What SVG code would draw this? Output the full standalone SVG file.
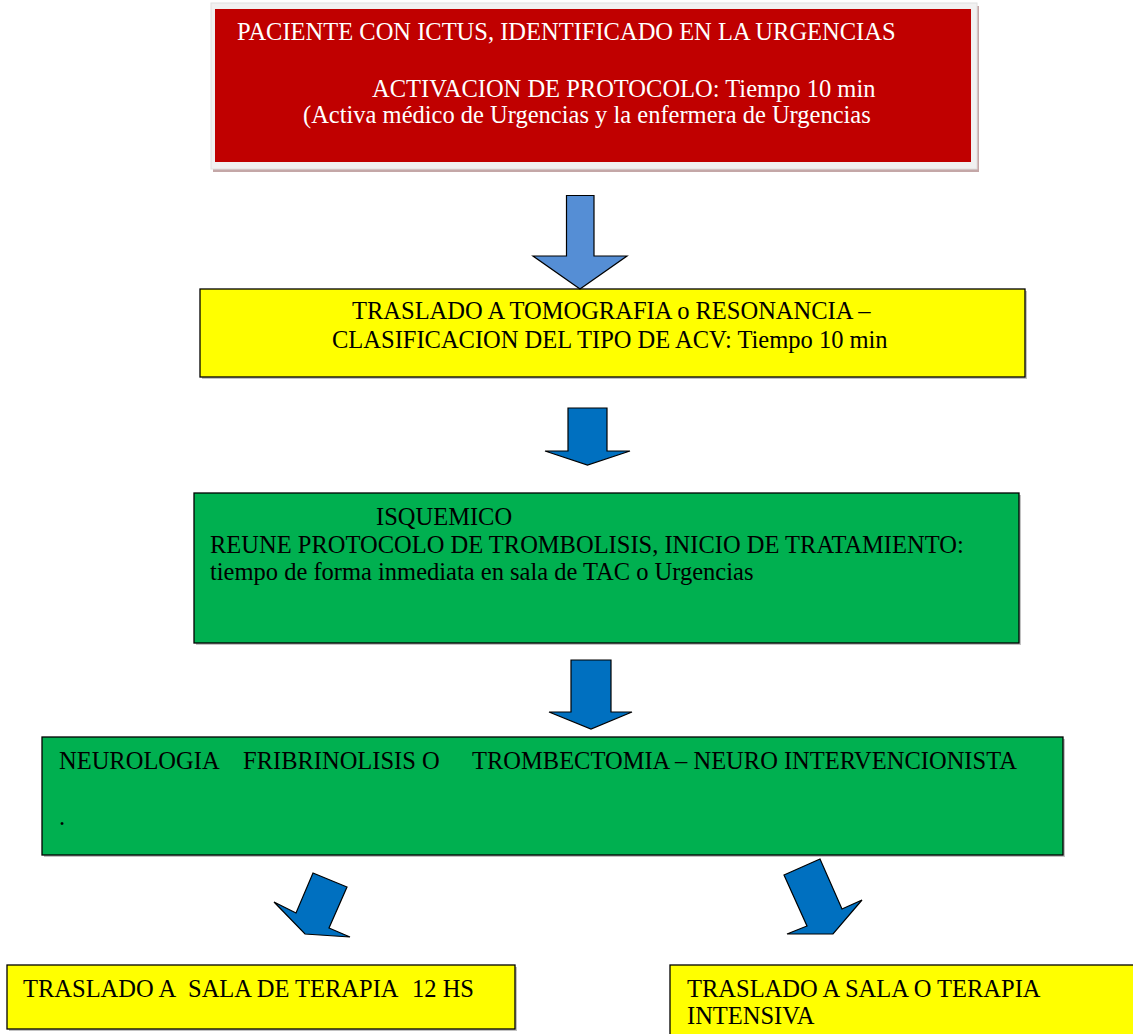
<svg xmlns="http://www.w3.org/2000/svg" width="1133" height="1034" viewBox="0 0 1133 1034">
<style>
text{font-family:"Liberation Serif","Times New Roman",serif;font-size:24.5px;fill:#000}
.w{fill:#fff}
.box{stroke:#000;stroke-width:1.3}
.sh{fill:#9a9a9a;opacity:0.6}
.arr{stroke:#000;stroke-width:1.2;stroke-linejoin:miter}
</style>
<rect x="0" y="0" width="1133" height="1034" fill="#fff"/>
<g id="n1">
<rect x="213" y="6" width="766" height="166" fill="#c4a7a7"/>
<rect x="211" y="3" width="766" height="166" fill="#f1f1f1" stroke="#e0e0e0" stroke-width="1"/>
<rect x="215" y="9" width="756" height="153" fill="#c00000"/>
<text class="w" x="237" y="40">PACIENTE CON ICTUS, IDENTIFICADO EN LA URGENCIAS</text>
<text class="w" x="372" y="97">ACTIVACION DE PROTOCOLO: Tiempo 10 min</text>
<text class="w" x="303" y="123">(Activa médico de Urgencias y la enfermera de Urgencias</text>
</g>
<g id="n2">
<rect class="sh" x="202" y="291" width="825" height="88"/>
<rect class="box" x="200" y="289" width="825" height="88" fill="#ffff00"/>
<text x="352" y="319">TRASLADO A TOMOGRAFIA o RESONANCIA –</text>
<text x="332" y="348">CLASIFICACION DEL TIPO DE ACV: Tiempo 10 min</text>
</g>
<g id="n3">
<rect class="sh" x="196" y="495" width="825" height="150"/>
<rect class="box" x="194" y="493" width="825" height="150" fill="#00b050"/>
<text x="376" y="525">ISQUEMICO</text>
<text x="210" y="553">REUNE PROTOCOLO DE TROMBOLISIS, INICIO DE TRATAMIENTO:</text>
<text x="210" y="580">tiempo de forma inmediata en sala de TAC o Urgencias</text>
</g>
<g id="n4">
<rect class="sh" x="44" y="739" width="1021" height="118"/>
<rect class="box" x="42" y="737" width="1021" height="118" fill="#00b050"/>
<text x="59" y="769">NEUROLOGIA</text>
<text x="243" y="769">FRIBRINOLISIS O</text>
<text x="472" y="769">TROMBECTOMIA – NEURO INTERVENCIONISTA</text>
<text x="59" y="825">.</text>
</g>
<g id="n5">
<rect class="sh" x="9" y="967" width="508" height="64"/>
<rect class="box" x="7" y="965" width="508" height="64" fill="#ffff00"/>
<text x="23" y="997">TRASLADO A</text>
<text x="188" y="997">SALA DE TERAPIA</text>
<text x="412" y="997">12 HS</text>
</g>
<g id="n6">
<rect class="box" x="670" y="965" width="480" height="80" fill="#ffff00"/>
<text x="687" y="997">TRASLADO A SALA O TERAPIA</text>
<text x="687" y="1024">INTENSIVA</text>
</g>
<g id="connectors">
<polygon class="arr" fill="#558ed5" points="566.5,195.5 594,195.5 594,256 627,256 580,289 533,256 566.5,256"/>
<polygon class="arr" fill="#0070c0" points="568,408 607,408 607,451 630,451 587.5,465 545,451 568,451"/>
<polygon class="arr" fill="#0070c0" points="571,660 611,660 611,712 632,712 591,729 549,712 571,712"/>
<polygon class="arr" fill="#0070c0" points="313,873 347,887 329,928 350,937 305,934 274,902 296,913"/>
<polygon class="arr" fill="#0070c0" points="784,875 820,859 842,909 862,900 833,934 787,934 807,926"/>
</g>
</svg>
